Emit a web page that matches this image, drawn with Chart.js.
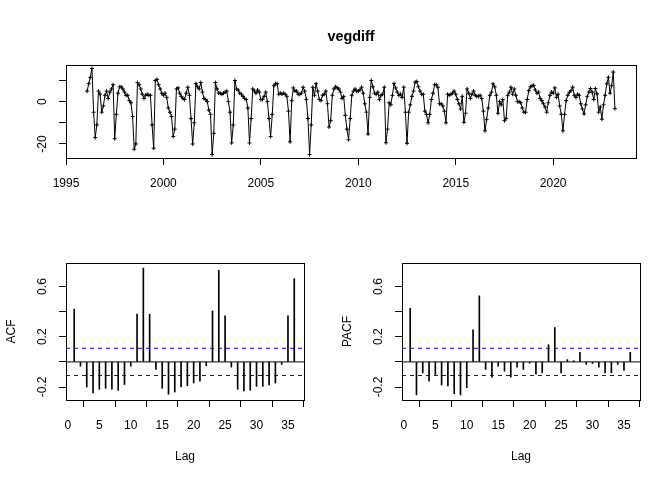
<!DOCTYPE html>
<html>
<head>
<meta charset="utf-8">
<title>vegdiff</title>
<script src="https://cdn.jsdelivr.net/npm/chart.js@4.4.1/dist/chart.umd.min.js"></script>
<style>
  body { margin: 0; background: #fff; }
  #wrap { position: relative; width: 672px; height: 480px; }
  canvas { position: absolute; }
  #tsChart { left: 0; top: 0; }
  #acfChart { left: 0; top: 200px; }
  #pacfChart { left: 336px; top: 200px; }
</style>
</head>
<body>
<div id="wrap">
  <canvas id="tsChart" width="672" height="200"></canvas>
  <canvas id="acfChart" width="336" height="280"></canvas>
  <canvas id="pacfChart" width="336" height="280"></canvas>
</div>
<script>
// monthly series, starts Feb 1996
const startYear = 1996;
const startMonth = 2;
const freq = 12;

const vegdiff = [
  5, 8.5, 11.5, 15.7, -5, -17, -11, 5, 3.5, -5, -2,
  3, 5, 1.5, 4.5, 6, 8, -17.5, -6, 4, 7, 7, 6,
  4.5, 3, 3, 0.5, -0.5, -7, -22.5, -20, 9, 8, 6, 3.5,
  1.5, 3, 3.5, 3, 3, -11, -22, 10, 10.5, 8, 6, 4,
  3, 4, 2, -3, -5, -7, -16.5, -13, 6, 6.5, 4, 2.5,
  1.5, 1, 4, 6.8, 3, -8, -20, -10, 8.5, 7, 6, 9,
  4.5, 1.5, 1, 0, -4, -6, -25, -15, 9, 6, 4, 4,
  3.5, 4, 4.5, 5, 0, -5, -19.5, -11, 10, 6, 5.5, 4,
  3.5, 2.5, 1.5, 1, -3, -19.5, -8, 6, 5, 4, 5.5, 4.5,
  1, 1, 2.5, 4.5, 0, -8, -16.5, -6, 7.5, 8.5, 8.5, 3.5,
  4, 3.5, 4, 3.5, 2.5, -4.5, -19, 0.5, 6.5, 5, 5, 3.5,
  3.5, 4, 6.8, 5, 1, -8, -25, -11, 6.8, 3, 8.5, 5,
  1, 0.5, 3, 3.5, 5, -1, -12, -9, 3, 6, 7, 6.5,
  6, 4.5, 1.5, 2.5, -6.5, -13, -18, -8, 3, 5, 6, 5,
  5, 5.5, 6.8, 4, -1, -5, -15.3, 2, 10, 7, 4, 3.5,
  4.5, 1, 3, 3.5, 6.8, -19.4, -13, -0.5, -1.5, 3, 8.5, 6.5,
  4.5, 3, 3.5, 2, 6.8, -5, -19.7, -5, -1.5, 2.5, 5, 9.2,
  9.5, 7, 5, 3.5, 3.5, -4.5, -6, -10, -6, 1, 4, 8,
  8, 6.8, -1, -1, -2, -4.5, -10, 3.5, 3, 3.5, 4, 5,
  3.5, 1, -1, -3.5, 2.5, -9.8, -5.5, 6, 4, 1.5, 3.5, 5,
  3, 2.5, 2.5, 3, 1.5, -4.5, -13.8, -8.5, -3, 3, 4.5, 8.4,
  7, 3, -5.5, 0, -1.5, 1, -9, -8, 3, 4.5, 6.8, 3.5,
  6, 3, 0, 0, -0.5, -3, -5, -5, 1, 5.2, 7, 7.5,
  7.7, 5.5, 4, 4.5, 1.5, 0.5, -1, -2.5, -5, -0.5, 3, 4.5,
  4, 6.5, 2, 3.5, -2, -6, -13.8, -6, 0.5, 3, 4.5, 5.2,
  6.8, 3, 2, 3.5, 3, -1, -3.5, -5.8, -1.5, 2.5, 4.5, 6.2,
  4.5, 1, 6.2, 3.7, -5, -2.5, -8.3, -1.5, 3, 8.4, 11.5, 4,
  7.5, 14, -3.3
];

const lags = [1, 2, 3, 4, 5, 6, 7, 8, 9, 10, 11, 12, 13, 14, 15, 16, 17, 18,
  19, 20, 21, 22, 23, 24, 25, 26, 27, 28, 29, 30, 31, 32, 33, 34, 35, 36];

const acfValues = [0.42, -0.034, -0.20, -0.247, -0.218, -0.21, -0.218, -0.226, -0.18, -0.034,
  0.38, 0.747, 0.38, -0.06, -0.21, -0.258, -0.24, -0.20, -0.19, -0.168, -0.153, -0.03,
  0.405, 0.729, 0.366, -0.042, -0.218, -0.232, -0.226, -0.195, -0.195, -0.184, -0.168,
  -0.02, 0.366, 0.663];

const pacfValues = [0.426, -0.263, -0.087, -0.153, -0.10, -0.184, -0.192, -0.253, -0.263, -0.205,
  0.255, 0.526, -0.06, -0.121, -0.034, -0.074, -0.121, -0.042, -0.06, -0.01, -0.095, -0.087,
  0.137, 0.274, -0.087, 0.018, 0.01, 0.076, -0.02, -0.013, -0.042, -0.087, -0.087,
  -0.02, -0.068, 0.076];

const lagMin = -0.3;
const lagMax = 37.55;

Chart.defaults.font.family = "'Liberation Sans', Arial, sans-serif";
Chart.defaults.font.size = 12;
Chart.defaults.color = "#000";

// R style axis limits: data range plus 4% each side
function padRange(lo, hi) {
  const r = hi - lo;
  return [lo - 0.04 * r, hi + 0.04 * r];
}

const framePlugin = {
  id: "frame",
  afterDraw(chart) {
    const a = chart.chartArea;
    const ctx = chart.ctx;
    ctx.save();
    ctx.strokeStyle = "#000";
    ctx.lineWidth = 1;
    ctx.strokeRect(a.left + 0.5, a.top + 0.5, a.right - a.left, a.bottom - a.top);
    ctx.restore();
  }
};

const tickGrid = { display: true, drawOnChartArea: false, drawTicks: true, tickLength: 7, color: "#000", lineWidth: 1 };

// ---- time series ----
const times = vegdiff.map((v, i) => startYear + (startMonth - 1 + i) / freq);
const tsPoints = vegdiff.map((v, i) => ({ x: times[i], y: v }));
let [tMin, tMax] = padRange(times[0], times[times.length - 1]);
tMin = Math.round(tMin * 1e6) / 1e6;
const [vMin, vMax] = padRange(Math.min(...vegdiff), Math.max(...vegdiff));

new Chart(document.getElementById("tsChart"), {
  type: "line",
  data: {
    datasets: [{
      data: tsPoints,
      borderColor: "#000",
      borderWidth: 1,
      pointStyle: "cross",
      pointRadius: 2,
      pointBorderWidth: 1,
      pointBorderColor: "#000",
      tension: 0
    }]
  },
  options: {
    responsive: false,
    animation: false,
    layout: { padding: { left: 0, right: 36, top: 0, bottom: 0 } },
    plugins: {
      legend: { display: false },
      tooltip: { enabled: false },
      title: {
        display: true,
        fullSize: false,
        text: "vegdiff",
        font: { size: 14.4, weight: "bold" },
        padding: { top: 28.4, bottom: 19.3 }
      }
    },
    scales: {
      x: {
        type: "linear",
        min: tMin,
        max: tMax,
        grid: tickGrid,
        border: { display: false },
        ticks: { stepSize: 5, includeBounds: false, autoSkip: false, maxRotation: 0, padding: 11, callback: v => String(v) },
        afterFit: s => { s.height = 42; }
      },
      y: {
        min: vMin,
        max: vMax,
        grid: tickGrid,
        border: { display: false },
        ticks: {
          stepSize: 10, includeBounds: false, autoSkip: false,
          minRotation: 90, maxRotation: 90, crossAlign: "center", padding: 8,
          callback: v => (Math.round(v) === 0 || Math.round(v) === -20) ? String(Math.round(v)) : ""
        },
        afterFit: s => { s.width = 66; }
      }
    }
  },
  plugins: [framePlugin]
});

// ---- ACF / PACF ----
const ci = 1.96 / Math.sqrt(vegdiff.length);
const allCorr = acfValues.concat(pacfValues, [ci, -ci]);
const [cMin, cMax] = padRange(Math.min(...allCorr), Math.max(...allCorr));

function corrChart(id, values, label) {
  const hline = (y, color, dash) => ({
    type: "line",
    data: [{ x: lagMin, y: y }, { x: lagMax, y: y }],
    borderColor: color,
    borderWidth: 1,
    borderDash: dash,
    pointRadius: 0
  });
  return new Chart(document.getElementById(id), {
    type: "bar",
    data: {
      datasets: [
        {
          type: "bar",
          data: lags.map((l, i) => ({ x: l, y: values[i] })),
          backgroundColor: "#000",
          borderWidth: 0,
          barThickness: 1,
          grouped: false
        },
        hline(0, "#000", []),
        hline(ci, "#0000FF", [4, 4]),
        hline(-ci, "#0000FF", [4, 4])
      ]
    },
    options: {
      responsive: false,
      animation: false,
      layout: { padding: { left: 0, right: 32, top: 63, bottom: 0 } },
      plugins: { legend: { display: false }, tooltip: { enabled: false } },
      scales: {
        x: {
          type: "linear",
          offset: false,
          min: lagMin,
          max: lagMax,
          grid: tickGrid,
          border: { display: false },
          ticks: { stepSize: 5, includeBounds: false, autoSkip: false, maxRotation: 0, padding: 11, callback: v => String(v) },
          title: { display: true, text: "Lag", font: { size: 12 }, padding: { top: 0, bottom: 16 } },
          afterFit: s => { s.height = 80; }
        },
        y: {
          min: cMin,
          max: cMax,
          grid: tickGrid,
          border: { display: false },
          ticks: {
            stepSize: 0.2, includeBounds: false, autoSkip: false,
            minRotation: 90, maxRotation: 90, crossAlign: "center", padding: 6,
            callback: v => {
              const r = Math.round(v * 10) / 10;
              return (r === -0.2 || r === 0.2 || r === 0.6) ? r.toFixed(1) : "";
            }
          },
          title: { display: true, text: label, font: { size: 12 }, padding: { top: 4.5, bottom: 0 } },
          afterFit: s => { s.width = 66; }
        }
      }
    },
    plugins: [framePlugin]
  });
}

corrChart("acfChart", acfValues, "ACF");
corrChart("pacfChart", pacfValues, "PACF");
</script>
</body>
</html>
